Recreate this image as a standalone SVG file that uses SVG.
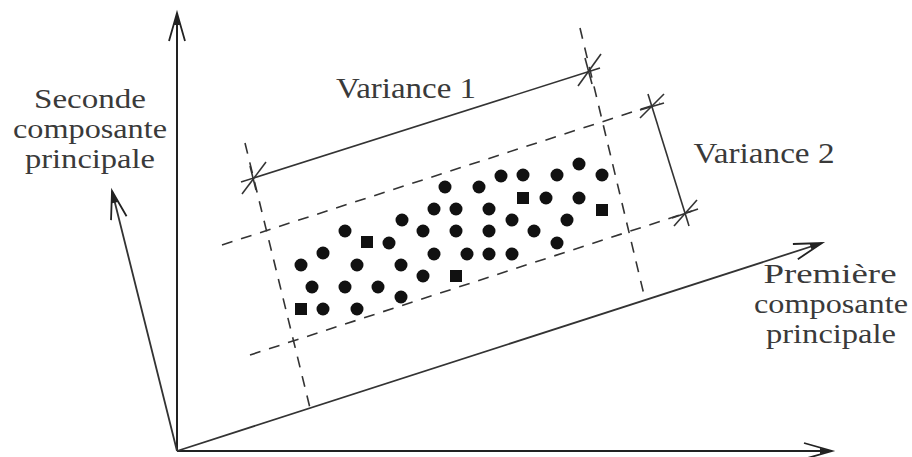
<svg xmlns="http://www.w3.org/2000/svg" width="912" height="457" viewBox="0 0 912 457">
<defs>
<style>
.ax{stroke:#222;stroke-width:2;fill:none}
.pa{stroke:#333;stroke-width:1.8;fill:none}
.ds{stroke:#333;stroke-width:1.6;fill:none;stroke-dasharray:11 9}
.tk{stroke:#333;stroke-width:1.6;fill:none}
.d{fill:#111}
text{font-family:"Liberation Serif","Times New Roman",serif;font-size:27px;fill:#3a3a3a;text-anchor:middle}
.big{font-size:30px}
</style>
<marker id="arr" markerUnits="userSpaceOnUse" markerWidth="40" markerHeight="24" refX="30" refY="12" orient="auto" overflow="visible">
<path d="M2,4 L30,12 L2,20" fill="none" stroke="#222" stroke-width="1.8"/>
<path d="M30,12 L18,9 L18,15 Z" fill="#222"/>
</marker>
<circle id="c" r="6.5"/>
</defs>
<rect width="912" height="457" fill="#fff"/>
<g id="axes">
<line class="ax" x1="177" y1="451" x2="177" y2="13" marker-end="url(#arr)"/>
<line class="ax" x1="177" y1="451" x2="832" y2="451" marker-end="url(#arr)"/>
<line class="pa" x1="177" y1="451" x2="112" y2="191" marker-end="url(#arr)"/>
<line class="pa" x1="177" y1="451" x2="822" y2="243" marker-end="url(#arr)"/>
</g>
<g id="connectors">
<line class="ds" x1="245" y1="143" x2="310" y2="408"/>
<line class="ds" x1="580" y1="28" x2="645" y2="299"/>
<line class="ds" x1="222" y1="245" x2="660" y2="103"/>
<line class="ds" x1="250" y1="355" x2="692" y2="211"/>
<line class="tk" x1="241" y1="182" x2="600" y2="68"/>
<line class="tk" x1="648" y1="94" x2="689" y2="226"/>
<g class="tk">
<line x1="242" y1="194" x2="266" y2="162"/>
<line x1="250" y1="166" x2="256" y2="190"/>
<line x1="578" y1="86" x2="601" y2="54"/>
<line x1="585" y1="58" x2="592" y2="84"/>
<line x1="640" y1="118" x2="664" y2="94"/>
<line x1="640" y1="110" x2="664" y2="103"/>
<line x1="674" y1="226" x2="697" y2="200"/>
<line x1="672" y1="218" x2="698" y2="209"/>
</g>
</g>
<g id="points" class="d">
<use href="#c" x="579" y="164"/>
<use href="#c" x="602" y="175"/>
<use href="#c" x="557" y="175"/>
<use href="#c" x="523" y="175"/>
<use href="#c" x="501" y="176"/>
<use href="#c" x="479" y="187"/>
<use href="#c" x="445" y="187"/>
<rect x="517" y="192" width="12" height="12"/>
<use href="#c" x="546" y="198"/>
<use href="#c" x="579" y="198"/>
<rect x="596" y="204" width="12" height="12"/>
<use href="#c" x="489" y="209"/>
<use href="#c" x="456" y="209"/>
<use href="#c" x="434" y="209"/>
<use href="#c" x="402" y="220"/>
<use href="#c" x="512" y="220"/>
<use href="#c" x="567" y="220"/>
<use href="#c" x="345" y="231"/>
<use href="#c" x="423" y="231"/>
<use href="#c" x="456" y="231"/>
<use href="#c" x="489" y="231"/>
<use href="#c" x="534" y="231"/>
<rect x="361" y="236" width="12" height="12"/>
<use href="#c" x="389" y="243"/>
<use href="#c" x="557" y="243"/>
<use href="#c" x="323" y="253"/>
<use href="#c" x="434" y="254"/>
<use href="#c" x="467" y="254"/>
<use href="#c" x="489" y="254"/>
<use href="#c" x="512" y="254"/>
<use href="#c" x="301" y="265"/>
<use href="#c" x="357" y="265"/>
<use href="#c" x="401" y="265"/>
<use href="#c" x="423" y="276"/>
<rect x="450" y="270" width="12" height="12"/>
<use href="#c" x="312" y="287"/>
<use href="#c" x="345" y="287"/>
<use href="#c" x="378" y="287"/>
<use href="#c" x="401" y="297"/>
<rect x="295" y="303" width="12" height="12"/>
<use href="#c" x="323" y="309"/>
<use href="#c" x="357" y="309"/>
</g>
<g id="labels">
<text x="90" y="108" textLength="112" lengthAdjust="spacingAndGlyphs">Seconde</text>
<text x="90" y="138" textLength="154" lengthAdjust="spacingAndGlyphs">composante</text>
<text x="90" y="168" textLength="130" lengthAdjust="spacingAndGlyphs">principale</text>
<text class="big" x="406" y="98" textLength="140" lengthAdjust="spacingAndGlyphs">Variance 1</text>
<text class="big" x="764" y="163" textLength="141" lengthAdjust="spacingAndGlyphs">Variance 2</text>
<text x="830" y="283" textLength="133" lengthAdjust="spacingAndGlyphs">Première</text>
<text x="831" y="313" textLength="154" lengthAdjust="spacingAndGlyphs">composante</text>
<text x="831" y="343" textLength="130" lengthAdjust="spacingAndGlyphs">principale</text>
</g>
</svg>
